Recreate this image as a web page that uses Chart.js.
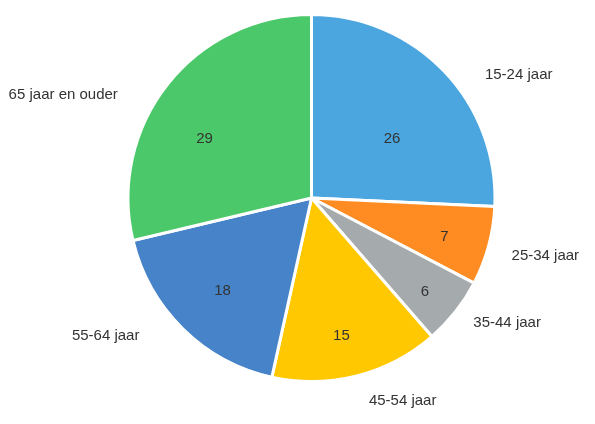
<!DOCTYPE html>
<html>
<head>
<meta charset="utf-8">
<script src="https://cdn.jsdelivr.net/npm/chart.js@4/dist/chart.umd.min.js"></script>
<style>
html,body{margin:0;padding:0;background:#fff;}
#wrap{width:595px;height:424px;position:relative;}
</style>
</head>
<body>
<div id="wrap"><canvas id="c" width="595" height="424"></canvas></div>
<script>
// Data
const categories = ["15-24 jaar", "25-34 jaar", "35-44 jaar", "45-54 jaar", "55-64 jaar", "65 jaar en ouder"];
const values = [26, 7, 6, 15, 18, 29];
const colors = ["#4ba6df", "#ff8c22", "#a5abad", "#ffc800", "#4683c8", "#4bc96a"];

// Label layout (angle nudges in degrees, radius as fraction of pie radius)
const valueAngleNudge = [6.8, 0.8, 0.9, 1.9, -0.6, -9];
const valueRadiusFrac = [0.55, 0.755, 0.8, 0.765, 0.70, 0.67];
const labelAngleNudge = [8.1, 0.8, -0.8, -1.6, 6.9, -10];
const labelRadiusFrac = [1.165, 1.137, 1.115, 1.148, 1.202, 1.202];

const FONT = '15px "Liberation Sans", Arial, sans-serif';
const TEXT = '#333333';

const labelsPlugin = {
  id: 'pieLabels',
  afterDatasetsDraw(chart) {
    const ctx = chart.ctx;
    const meta = chart.getDatasetMeta(0);
    ctx.save();
    ctx.font = FONT;
    ctx.fillStyle = TEXT;
    ctx.textBaseline = 'middle';
    meta.data.forEach((arc, i) => {
      const p = arc.getProps(['x', 'y', 'startAngle', 'endAngle', 'outerRadius'], true);
      const R = 183;
      const mid = (p.startAngle + p.endAngle) / 2;
      // value inside
      const va = mid + valueAngleNudge[i] * Math.PI / 180;
      const vr = R * valueRadiusFrac[i];
      ctx.textAlign = 'center';
      ctx.fillText(String(values[i]), p.x + vr * Math.cos(va), p.y + 1 + vr * Math.sin(va));
      // category outside
      const la = mid + labelAngleNudge[i] * Math.PI / 180;
      const lr = R * labelRadiusFrac[i];
      const lx = p.x + lr * Math.cos(la);
      const ly = p.y + 1 + lr * Math.sin(la);
      ctx.textAlign = Math.cos(la) >= 0 ? 'left' : 'right';
      ctx.fillText(categories[i], lx, ly);
    });
    ctx.restore();
  }
};

new Chart(document.getElementById('c'), {
  type: 'pie',
  data: {
    labels: categories,
    datasets: [{
      data: values,
      backgroundColor: colors,
      borderColor: '#ffffff',
      borderWidth: 3,
      hoverOffset: 0
    }]
  },
  options: {
    responsive: false,
    animation: false,
    devicePixelRatio: 1,
    layout: { padding: { top: 13, bottom: 41, left: 126.5, right: 98.5 } },
    plugins: {
      legend: { display: false },
      tooltip: { enabled: false },
      title: { display: false }
    }
  },
  plugins: [labelsPlugin]
});
</script>
</body>
</html>
